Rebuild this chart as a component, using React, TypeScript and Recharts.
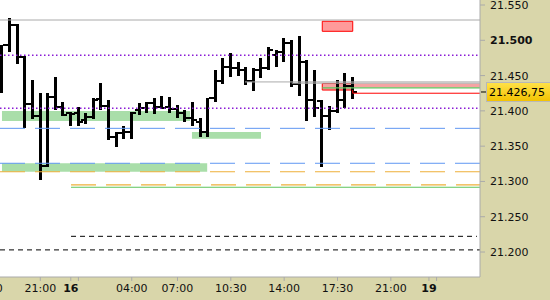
import React from 'react';
import { ComposedChart, Bar, XAxis, YAxis, ReferenceLine, ReferenceArea } from 'recharts';

// ---- bars (30-minute OHLC) ----
const BAR_INDEX = [0,1,2,3,4,5,6,7,8,9,10,11,12,13,14,15,16,17,18,19,20,21,22,23,24,25,26,27,28,29,30,31,32,33,34,35,36,37,38,39,40,41,42,43,44,45,46];
const OPEN = [21443.75,21493.25,21521.75,21476.25,21409.75,21392.75,21321.75,21419.5,21405.5,21397,21397,21387,21391.25,21416.75,21407,21363,21368.5,21370,21401.25,21404,21411,21405.5,21405.5,21402.5,21397,21390,21384.25,21370,21418.25,21442.25,21462.25,21460.75,21458,21442.25,21458,21460.75,21479.25,21483.5,21496.25,21438,21469.25,21415.5,21414,21392.75,21399.75,21415.5,21435.25];
const HIGH = [21493.25,21531.5,21522.5,21477.75,21443.75,21425.25,21425.25,21448,21412.5,21398.5,21405.5,21397,21418.25,21439.5,21415.5,21370,21378.5,21398.5,21411,21412.5,21418.25,21421,21419.5,21408.25,21401.25,21412.5,21390,21418.25,21458,21475,21482,21469.25,21462.25,21460.75,21475,21490.5,21486.25,21503.25,21500.5,21506,21472,21458,21415.5,21407,21443.75,21453.75,21448];
const LOW = [21425.25,21483.5,21466.5,21375.75,21388.5,21302,21320.5,21401.25,21392.75,21378.5,21378.5,21381.5,21388.5,21401.25,21358.75,21348.75,21360,21360,21394,21397,21395.5,21402.5,21397,21390,21384.25,21378.5,21363,21363,21412.5,21438,21448,21449.5,21436.75,21428.25,21446.5,21457.75,21462.25,21469.25,21433.75,21421,21385.5,21391.25,21320.5,21372.75,21397,21404,21416.75];
const CLOSE = [21493.25,21521.75,21476.25,21409.75,21392.75,21321.75,21419.5,21405.5,21394,21395.5,21384.25,21391.25,21415.5,21407,21363,21368.5,21370,21397,21404,21411,21405.5,21404,21402.5,21397,21390,21387,21370,21418.25,21442.25,21462.25,21460.75,21458,21442.25,21458,21460.75,21486.25,21483.5,21496.25,21438,21469.25,21415.5,21404,21392.75,21399.75,21415.5,21435.25,21426.75];

// ---- axes ----
const X_TICKS = [-2, 5, 9, 10, 17, 23, 30, 37, 44, 51, 56, 57];
const X_LABELS = ['17:30', '21:00', '16', '', '04:00', '07:00', '10:30', '14:00', '17:30', '21:00', '19', ''];
const X_BOLD_LABELS = ['16', '19'];
const Y_TICKS = [21200, 21250, 21300, 21350, 21400, 21450, 21500, 21550];
const Y_BOLD_TICK = 21500;
const LAST_PRICE = 21426.75;
const X_START = -0.29;
const X_END = 62.7;
const Y_MIN = 21164.6;
const Y_MAX = 21557.1;

// ---- levels & zones ----
const GREEN_ZONES = [
  { from: -0.03, to: 24.65, low: 21385.5, high: 21399.75 },
  { from: 24.9, to: 33.96, low: 21360.5, high: 21370 },
  { from: -0.03, to: 26.9, low: 21313.75, high: 21325.75 },
];
const RED_BOX = { from: 42, to: 46, low: 21512.75, high: 21527 };
const PINK_BAND = { from: 42, to: X_END, low: 21433, high: 21438.75 };
const PINK_BOX = { from: 42, to: 46, low: 21429.5, high: 21438.75 };
const RED_STEP = { from: 46, to: X_END, price: 21425, top: 21429.5 };
const GRAY_LINES = [
  { price: 21528.75, from: X_START, to: X_END },
  { price: 21441, from: 31.86, to: X_END },
  { price: 21439.25, from: 38, to: X_END },
];
const PURPLE_LINES = [21478.75, 21403.75];
const BLUE_LINES = [21375.25, 21325.75];
const ORANGE_LINES = [
  { price: 21313.75, from: X_START, to: X_END },
  { price: 21295, from: 9.03, to: X_END },
];
const GREEN_LINES = [
  { price: 21291.75, from: 9.03, to: X_END },
  { price: 21432.5, from: 42, to: X_END },
];
const BLACK_LINES = [
  { price: 21222.25, from: 9.03, to: 62.3 },
  { price: 21203, from: X_START, to: X_END },
];

const data = BAR_INDEX.map((i, k) => ({
  i,
  open: OPEN[k],
  high: HIGH[k],
  low: LOW[k],
  close: CLOSE[k],
}));

const FONT = "'DejaVu Sans', Verdana, sans-serif";

const fmtThousands = (v: number) => {
  const int = Math.floor(v);
  const s = String(int);
  return s.slice(0, s.length - 3) + '.' + s.slice(s.length - 3);
};
const fmtPrice = (v: number) => {
  const frac = Math.round((v - Math.floor(v)) * 100);
  return fmtThousands(v) + ',' + String(frac).padStart(2, '0');
};

const OhlcShape = (props: any) => {
  const { x, y, width, height, payload } = props;
  if (x == null || y == null) return null;
  const cx = x + width / 2;
  const top = Math.min(y, y + height);
  const bot = Math.max(y, y + height);
  const span = payload.high - payload.low;
  const k = span > 0 ? (bot - top) / span : 0;
  const oy = top + (payload.high - payload.open) * k;
  const cy = top + (payload.high - payload.close) * k;
  const L = Math.round(cx - 1.5);
  return (
    <g fill="#000" shapeRendering="crispEdges">
      <rect x={L} y={Math.round(top)} width={3} height={Math.max(Math.round(bot - top), 1)} />
      <rect x={L - 3} y={Math.round(oy - 1)} width={3} height={2} />
      <rect x={L + 3} y={Math.round(cy - 1)} width={3} height={2} />
    </g>
  );
};

const YTick = (props: any) => {
  const { x, y, payload } = props;
  const v = payload.value;
  return (
    <text x={x} y={y} dy={4} fontSize={11} fontFamily={FONT} fill="#111" fontWeight={v === Y_BOLD_TICK ? 'bold' : 'normal'}>
      {fmtThousands(v)}
    </text>
  );
};

const XTick = (props: any) => {
  const { x, y, payload } = props;
  const idx = X_TICKS.indexOf(payload.value);
  const label = idx >= 0 ? X_LABELS[idx] : '';
  if (!label) return null;
  return (
    <text x={x} y={y} dy={9} textAnchor="middle" fontSize={11} fontFamily={FONT} fill="#111" fontWeight={X_BOLD_LABELS.includes(label) ? 'bold' : 'normal'}>
      {label}
    </text>
  );
};

const PriceLabel = (props: any) => {
  const vb = props.viewBox;
  if (!vb) return null;
  const right = vb.x + vb.width;
  const cy = vb.y;
  return (
    <g>
      <defs>
        <linearGradient id="goldGrad" x1="0" y1="0" x2="0" y2="1">
          <stop offset="0%" stopColor="#ffe24a" />
          <stop offset="100%" stopColor="#f2c200" />
        </linearGradient>
      </defs>
      <line x1={right + 1} x2={right + 6} y1={cy} y2={cy} stroke="#000" />
      <rect x={right + 6.5} y={cy - 9.5} width={70} height={19} fill="url(#goldGrad)" stroke="#b8b8b8" />
      <text x={right + 9} y={cy + 4} fontSize={11} fontFamily={FONT} fill="#000">
        {fmtPrice(LAST_PRICE)}
      </text>
    </g>
  );
};

const GRAY = '#aaaaaa';

export default function App() {
  return (
    <div style={{ position: 'fixed', left: 0, top: 0, width: 550, height: 300, background: '#d9d6aa', overflow: 'hidden' }}>
      <ComposedChart width={550} height={300} data={data} margin={{ top: 0, right: 0, bottom: 0, left: 0 }}>
        <XAxis
          dataKey="i"
          type="number"
          domain={[X_START, X_END]}
          allowDataOverflow
          ticks={X_TICKS}
          interval={0}
          height={23}
          tickSize={4}
          tickMargin={2}
          stroke={GRAY}
          tickLine={{ stroke: GRAY }}
          axisLine={{ stroke: GRAY }}
          tick={<XTick />}
        />
        <YAxis
          orientation="right"
          type="number"
          domain={[Y_MIN, Y_MAX]}
          allowDataOverflow
          ticks={Y_TICKS}
          interval={0}
          width={70}
          tickSize={5}
          tickMargin={5}
          stroke={GRAY}
          tickLine={{ stroke: GRAY }}
          axisLine={{ stroke: GRAY }}
          tick={<YTick />}
        />
        <ReferenceArea x1={X_START} x2={X_END} y1={Y_MIN} y2={Y_MAX} fill="#ffffff" fillOpacity={1} stroke="none" />
        {GREEN_ZONES.map((z, k) => (
          <ReferenceArea key={'gz' + k} x1={z.from} x2={z.to} y1={z.low} y2={z.high} fill="#a9dea9" fillOpacity={1} stroke="none" />
        ))}
        <ReferenceArea x1={PINK_BAND.from} x2={PINK_BAND.to} y1={PINK_BAND.low} y2={PINK_BAND.high} fill="#f5a3a3" fillOpacity={1} stroke="none" />
        <ReferenceArea x1={PINK_BOX.from} x2={PINK_BOX.to} y1={PINK_BOX.low} y2={PINK_BOX.high} fill="#f5a3a3" fillOpacity={1} stroke="#ff0000" strokeWidth={1} />
        <ReferenceArea x1={RED_BOX.from} x2={RED_BOX.to} y1={RED_BOX.low} y2={RED_BOX.high} fill="#ff9a9a" fillOpacity={1} stroke="#ff0000" strokeWidth={1} />
        {GRAY_LINES.map((l, k) => (
          <ReferenceLine key={'gl' + k} segment={[{ x: l.from, y: l.price }, { x: l.to, y: l.price }]} stroke={GRAY} strokeWidth={1} />
        ))}
        {PURPLE_LINES.map((p, k) => (
          <ReferenceLine key={'pl' + k} segment={[{ x: X_START, y: p }, { x: X_END, y: p }]} stroke="#8a1ad6" strokeWidth={1.5} strokeDasharray="1.5 2.5" />
        ))}
        {BLUE_LINES.map((p, k) => (
          <ReferenceLine key={'bl' + k} segment={[{ x: X_START, y: p }, { x: X_END, y: p }]} stroke="#5f97f2" strokeWidth={1} strokeDasharray="25 10" />
        ))}
        {ORANGE_LINES.map((l, k) => (
          <ReferenceLine key={'ol' + k} segment={[{ x: l.from, y: l.price }, { x: l.to, y: l.price }]} stroke="#eeb03a" strokeWidth={1.2} strokeDasharray="25 10" />
        ))}
        {GREEN_LINES.map((l, k) => (
          <ReferenceLine key={'grl' + k} segment={[{ x: l.from, y: l.price }, { x: l.to, y: l.price }]} stroke="#5cc45c" strokeWidth={1.2} />
        ))}
        {BLACK_LINES.map((l, k) => (
          <ReferenceLine key={'kl' + k} segment={[{ x: l.from, y: l.price }, { x: l.to, y: l.price }]} stroke="#000" strokeWidth={1} strokeDasharray="5 4" />
        ))}
        <ReferenceLine segment={[{ x: RED_STEP.from, y: RED_STEP.top }, { x: RED_STEP.from, y: RED_STEP.price }]} stroke="#ff0000" strokeWidth={1} />
        <ReferenceLine segment={[{ x: RED_STEP.from, y: RED_STEP.price }, { x: RED_STEP.to, y: RED_STEP.price }]} stroke="#ff0000" strokeWidth={1} />
        <Bar dataKey={(d: any) => [d.low, d.high]} barSize={3} shape={<OhlcShape />} isAnimationActive={false} />
        <ReferenceLine y={LAST_PRICE} stroke="none" label={<PriceLabel />} />
      </ComposedChart>
    </div>
  );
}
